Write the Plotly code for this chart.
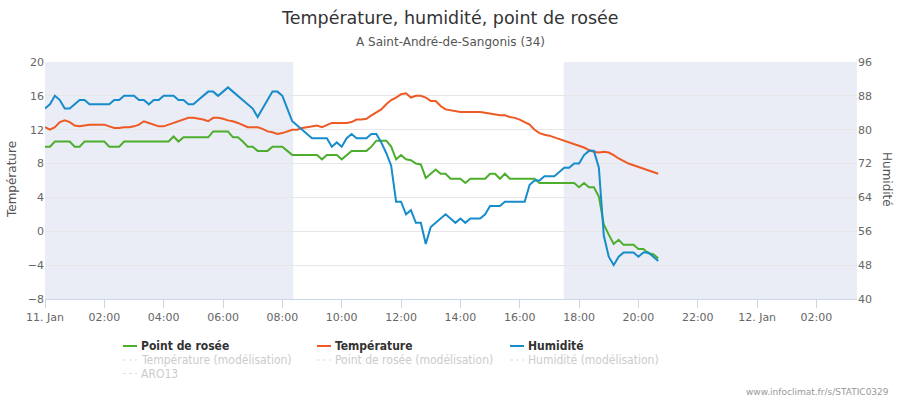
import plotly.graph_objects as go
import pandas as pd

# ---------------- data (10-min steps from 11 Jan 00:00) ----------------
start = "2024-01-11 00:00"

temperature = [12.3, 12.0, 12.3, 12.9, 13.1, 12.9, 12.5, 12.4, 12.5, 12.6,
               12.6, 12.6, 12.6, 12.4, 12.2, 12.2, 12.3, 12.3, 12.4, 12.6,
               13.0, 12.8, 12.6, 12.4, 12.4, 12.6, 12.8, 13.0, 13.2, 13.4,
               13.4, 13.3, 13.2, 13.0, 13.4, 13.4, 13.3, 13.1, 13.0, 12.8,
               12.5, 12.3, 12.3, 12.3, 12.1, 11.8, 11.7, 11.5, 11.6, 11.8,
               12.0, 12.0, 12.2, 12.3, 12.4, 12.5, 12.3, 12.6, 12.8, 12.8,
               12.8, 12.8, 12.9, 13.2, 13.2, 13.3, 13.7, 14.1, 14.4, 15.0,
               15.5, 15.8, 16.2, 16.3, 15.8, 16.0, 16.0, 15.8, 15.4, 15.4,
               14.8, 14.4, 14.3, 14.2, 14.1, 14.1, 14.1, 14.1, 14.1, 14.0,
               13.9, 13.8, 13.7, 13.7, 13.5, 13.4, 13.2, 12.9, 12.6, 12.0,
               11.6, 11.4, 11.3, 11.1, 10.9, 10.7, 10.5, 10.3, 10.1, 9.9,
               9.6, 9.4, 9.3, 9.4, 9.3, 9.0, 8.6, 8.3, 8.0, 7.8,
               7.6, 7.4, 7.2, 7.0, 6.8]

dewpoint = [10.0, 10.0, 10.6, 10.6, 10.6, 10.6, 10.0, 10.0, 10.6, 10.6,
            10.6, 10.6, 10.6, 10.0, 10.0, 10.0, 10.6, 10.6, 10.6, 10.6,
            10.6, 10.6, 10.6, 10.6, 10.6, 10.6, 11.2, 10.6, 11.1, 11.1,
            11.1, 11.1, 11.1, 11.1, 11.8, 11.8, 11.8, 11.8, 11.1, 11.1,
            10.6, 10.0, 10.0, 9.5, 9.5, 9.5, 10.0, 10.0, 10.0, 9.5,
            9.0, 9.0, 9.0, 9.0, 9.0, 9.0, 8.5, 9.0, 9.0, 9.0,
            8.5, 9.0, 9.5, 9.5, 9.5, 9.5, 10.0, 10.7, 10.7, 10.7,
            10.0, 8.5, 9.0, 8.5, 8.4, 8.0, 7.9, 6.3, 6.8, 7.3,
            6.8, 6.8, 6.2, 6.2, 6.2, 5.7, 6.2, 6.2, 6.2, 6.2,
            6.8, 6.8, 6.2, 6.8, 6.2, 6.2, 6.2, 6.2, 6.2, 6.2,
            5.7, 5.7, 5.7, 5.7, 5.7, 5.7, 5.7, 5.7, 5.2, 5.7,
            5.2, 5.2, 4.1, 0.8, -0.4, -1.5, -1.0, -1.6, -1.6, -1.6,
            -2.1, -2.1, -2.6, -2.7, -3.2]

humidity = [85, 86, 88, 87, 85, 85, 86, 87, 87, 86,
            86, 86, 86, 86, 87, 87, 88, 88, 88, 87,
            87, 86, 87, 87, 88, 88, 88, 87, 87, 86,
            86, 87, 88, 89, 89, 88, 89, 90, 89, 88,
            87, 86, 85, 83, 85, 87, 89, 89, 88, 85,
            82, 81, 80, 79, 78, 78, 78, 78, 76, 77,
            76, 78, 79, 78, 78, 78, 79, 79, 77, 74.5,
            71.5, 63, 63, 60, 61, 58, 58, 53, 57, 58,
            59, 60, 59, 58, 59, 58, 59, 59, 59, 60,
            62, 62, 62, 63, 63, 63, 63, 63, 67, 68,
            68, 69, 69, 69, 70, 71, 71, 72, 72, 74,
            75, 75, 71, 55, 50, 48, 50, 51, 51, 51,
            50, 51, 51, 50, 49]

x_tick_hours = [0, 2, 4, 6, 8, 10, 12, 14, 16, 18, 20, 22, 24, 26]
x_tick_labels = ["11. Jan", "02:00", "04:00", "06:00", "08:00", "10:00", "12:00",
                 "14:00", "16:00", "18:00", "20:00", "22:00", "12. Jan", "02:00"]
temp_ticks = [-8, -4, 0, 4, 8, 12, 16, 20]
hum_ticks = [40, 48, 56, 64, 72, 80, 88, 96]
night_bands = [("2024-01-11 00:00", "2024-01-11 08:22"),
               ("2024-01-11 17:29", "2024-01-12 03:22")]

legend_row1 = [("Point de rosée", "#4cae2d"), ("Température", "#ef5a24"), ("Humidité", "#168ccb")]
legend_row2 = ["Température (modélisation)", "Point de rosée (modélisation)", "Humidité (modélisation)"]
legend_row3 = ["ARO13"]

times = pd.date_range(start, periods=len(temperature), freq="10min")
t0 = pd.Timestamp(start)
tickvals = [t0 + pd.Timedelta(hours=h) for h in x_tick_hours]

FONT = "DejaVu Sans, sans-serif"
FONT_C = "DejaVu Sans Condensed, DejaVu Sans, sans-serif"
W, H = 900, 400
ML, MR, MT, MB = 45, 43, 62, 101
PW, PH = W - ML - MR, H - MT - MB


def px(xp):
    return (xp - ML) / PW


def py(yp):
    return (H - MB - yp) / PH


fig = go.Figure()
fig.add_trace(go.Scatter(x=times, y=dewpoint, mode="lines", name="Point de rosée",
                         line=dict(color=legend_row1[0][1], width=2), showlegend=False))
fig.add_trace(go.Scatter(x=times, y=temperature, mode="lines", name="Température",
                         line=dict(color=legend_row1[1][1], width=2), showlegend=False))
fig.add_trace(go.Scatter(x=times, y=humidity, mode="lines", name="Humidité", yaxis="y2",
                         line=dict(color=legend_row1[2][1], width=2), showlegend=False))

shapes = []
for a, b in night_bands:
    shapes.append(dict(type="rect", xref="x", yref="paper", x0=a, x1=b, y0=0, y1=1,
                       fillcolor="#eaedf6", line=dict(width=0), layer="below"))

annotations = [
    dict(text="Température, humidité, point de rosée", x=px(450), y=py(18), xref="paper", yref="paper",
         showarrow=False, xanchor="center", yanchor="middle", font=dict(size=17.5, color="#333333", family=FONT)),
    dict(text="A Saint-André-de-Sangonis (34)", x=px(450), y=py(42), xref="paper", yref="paper",
         showarrow=False, xanchor="center", yanchor="middle", font=dict(size=12, color="#555555", family=FONT)),
    dict(text="Température", x=px(12), y=py(180), xref="paper", yref="paper", textangle=-90,
         showarrow=False, xanchor="center", yanchor="middle", font=dict(size=12, color="#555555", family=FONT)),
    dict(text="Humidité", x=px(887), y=py(180), xref="paper", yref="paper", textangle=90,
         showarrow=False, xanchor="center", yanchor="middle", font=dict(size=12, color="#555555", family=FONT)),
    dict(text="www.infoclimat.fr/s/STATIC0329", x=px(891), y=py(392), xref="paper", yref="paper",
         showarrow=False, xanchor="right", yanchor="middle", font=dict(size=9, color="#999999", family=FONT)),
]

col_x = [123, 317, 510]
row_y = [346, 360, 373.5]
for i, (name, color) in enumerate(legend_row1):
    shapes.append(dict(type="line", xref="paper", yref="paper", x0=px(col_x[i]), x1=px(col_x[i] + 14),
                       y0=py(row_y[0]), y1=py(row_y[0]), line=dict(color=color, width=2)))
    annotations.append(dict(text="<b>" + name + "</b>", x=px(col_x[i] + 16), y=py(row_y[0]), xref="paper",
                            yref="paper", showarrow=False, xanchor="left", yanchor="middle",
                            font=dict(size=12, color="#333333", family=FONT_C)))
for r, row in enumerate([legend_row2, legend_row3]):
    for i, name in enumerate(row):
        shapes.append(dict(type="line", xref="paper", yref="paper", x0=px(col_x[i]), x1=px(col_x[i] + 14),
                           y0=py(row_y[r + 1]), y1=py(row_y[r + 1]),
                           line=dict(color="#dddddd", width=1, dash="dot")))
        annotations.append(dict(text=name, x=px(col_x[i] + 16), y=py(row_y[r + 1]), xref="paper",
                                yref="paper", showarrow=False, xanchor="left", yanchor="middle",
                                font=dict(size=12, color="#cccccc", family=FONT_C)))

fig.update_layout(
    width=W, height=H,
    margin=dict(l=ML, r=MR, t=MT, b=MB, pad=0),
    paper_bgcolor="white", plot_bgcolor="white",
    font=dict(family=FONT, size=11, color="#666666"),
    showlegend=False,
    xaxis=dict(range=[t0, t0 + pd.Timedelta(hours=27, minutes=22)],
               tickvals=tickvals, ticktext=x_tick_labels, ticks="outside", ticklen=8,
               tickcolor="#ccd6eb", showgrid=False, showline=True, linecolor="#ccd6eb",
               zeroline=False, tickfont=dict(size=11, color="#666666", family=FONT)),
    yaxis=dict(range=[-8, 20], tickvals=temp_ticks, showgrid=True, gridcolor="#e6e6e6",
               zeroline=False, ticks="", tickfont=dict(size=11, color="#666666", family=FONT)),
    yaxis2=dict(range=[40, 96], tickvals=hum_ticks, overlaying="y", side="right", showgrid=False,
                zeroline=False, ticks="", tickfont=dict(size=11, color="#666666", family=FONT)),
    shapes=shapes,
    annotations=annotations,
)

fig.write_html("out.html")
